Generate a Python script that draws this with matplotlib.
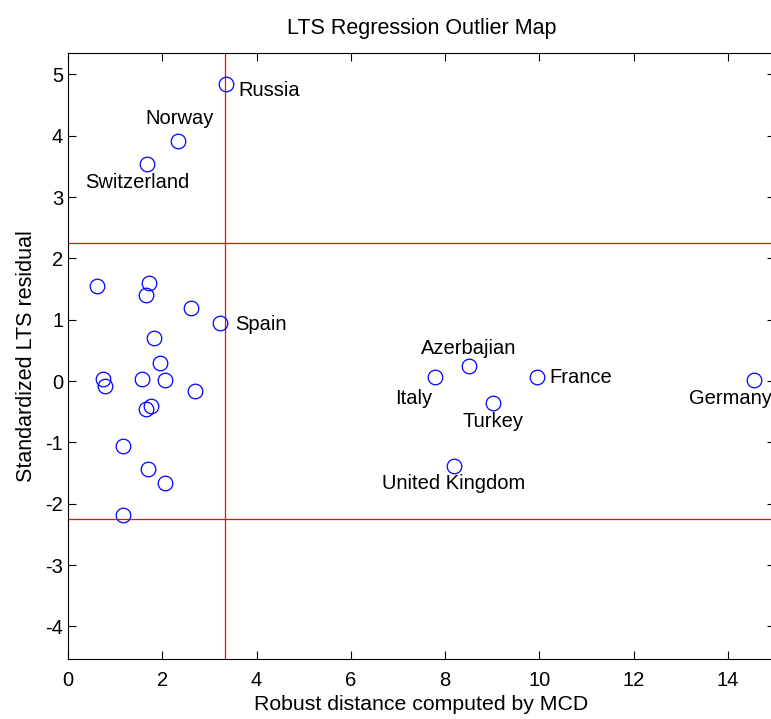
import matplotlib
matplotlib.use('Agg')
import matplotlib.pyplot as plt
import numpy as np

plt.rcParams['font.family'] = ['Liberation Sans', 'DejaVu Sans']
plt.rcParams['axes.unicode_minus'] = False

# robust distance (MCD) and standardized LTS residual per country
named = ['Russia', 'Norway', 'Switzerland', 'Spain', 'Azerbajian', 'Italy',
         'France', 'Turkey', 'United Kingdom', 'Germany']
named_rd = [3.36, 2.34, 1.68, 3.23, 8.51, 7.79, 9.94, 9.02, 8.19, 14.55]
named_res = [4.85, 3.92, 3.54, 0.95, 0.25, 0.07, 0.07, -0.36, -1.39, 0.02]

other_rd = [0.61, 1.72, 1.65, 2.62, 1.82, 1.96, 0.75, 0.78, 1.58, 2.06,
            2.69, 1.76, 1.65, 1.16, 1.69, 2.06, 1.16]
other_res = [1.55, 1.60, 1.40, 1.20, 0.71, 0.30, 0.04, -0.08, 0.04, 0.02,
             -0.16, -0.41, -0.45, -1.05, -1.43, -1.66, -2.18]

rd_cutoff = 3.33
res_cutoff = 2.25

# label placement (offset in points, alignment)
label_pos = {
    'Russia': ((9, -5), 'left'),
    'Norway': ((1, 16), 'center'),
    'Switzerland': ((-7, -13), 'center'),
    'Spain': ((11, -1.5), 'left'),
    'Azerbajian': ((0, 12.5), 'center'),
    'Italy': ((-2, -15.5), 'right'),
    'France': ((9, -0.5), 'left'),
    'Turkey': ((0, -13.5), 'center'),
    'United Kingdom': ((0, -12), 'center'),
    'Germany': ((-17, -13.5), 'center'),
}

fig = plt.figure(figsize=(7.71, 7.19), dpi=100)
ax = fig.add_axes([68/771, 1 - 659/719, (775 - 68)/771, (659 - 53)/719])

ax.plot(other_rd + named_rd, other_res + named_res, 'o', mfc='none', mec='blue',
        ms=10.5, mew=0.9, zorder=3)
ax.axvline(rd_cutoff, color='red', lw=0.9)
ax.axhline(res_cutoff, color='red', lw=0.9)
ax.axhline(-res_cutoff, color='red', lw=0.9)

for name, x, y in zip(named, named_rd, named_res):
    off, ha = label_pos[name]
    ax.annotate(name, (x, y), xytext=off, textcoords='offset points',
                ha=ha, va='center', fontsize=14.5)

ax.set_xlim(0, 15)
ax.set_ylim(-4.53, 5.35)
ax.set_xticks(np.arange(0, 15, 2))
ax.set_yticks(np.arange(-4, 6, 1))
ax.tick_params(direction='in', top=True, right=True, length=5.8, width=0.8,
               labelsize=14.5)
ax.tick_params(axis='x', pad=9)
for s in ax.spines.values():
    s.set_linewidth(0.8)

ax.set_title('LTS Regression Outlier Map', fontsize=15.5, pad=14)
ax.set_xlabel('Robust distance computed by MCD', fontsize=15.3, labelpad=3)
ax.set_ylabel('Standardized LTS residual', fontsize=15.5, labelpad=6)

fig.savefig('out.png', dpi=100)
